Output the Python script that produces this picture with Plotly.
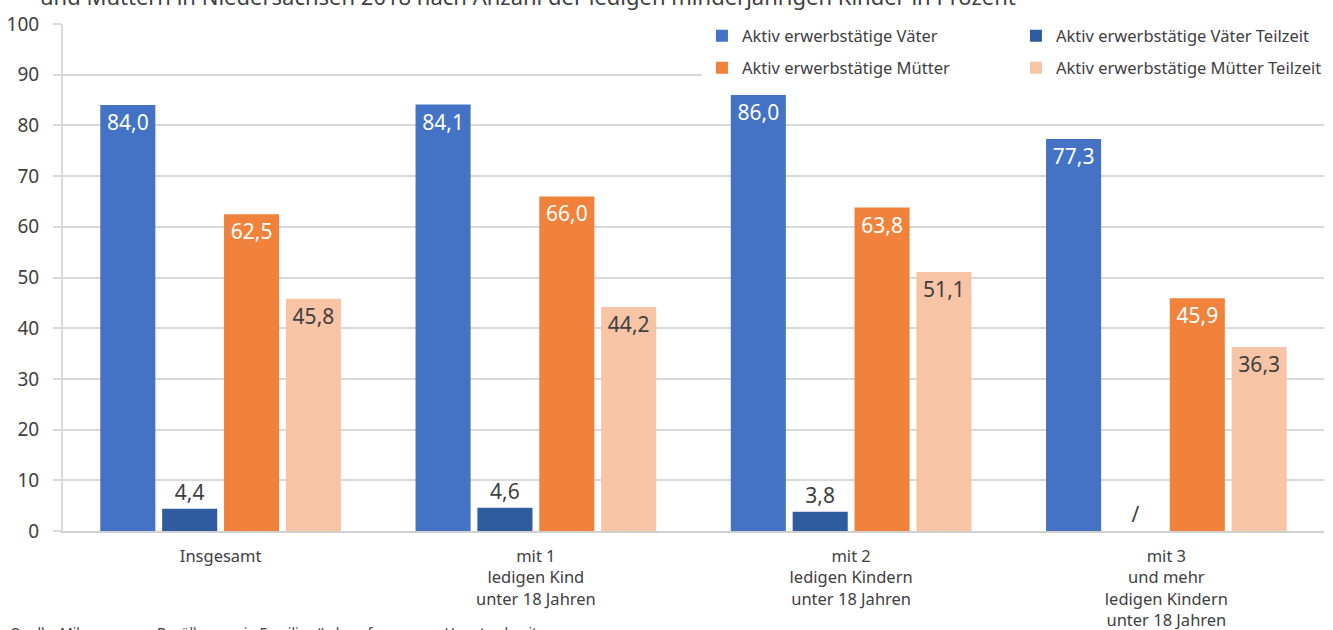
import plotly.graph_objects as go

# Daten
kategorien = ['Insgesamt',
              'mit 1<br>ledigen Kind<br>unter 18 Jahren',
              'mit 2<br>ledigen Kindern<br>unter 18 Jahren',
              'mit 3<br>und mehr<br>ledigen Kindern<br>unter 18 Jahren']
vaeter = [84.0, 84.1, 86.0, 77.3]
vaeter_teilzeit = [4.4, 4.6, 3.8, 0]          # letzter Wert: "/" (keine Angabe)
vaeter_teilzeit_text = ['4,4', '4,6', '3,8', '/']
muetter = [62.5, 66.0, 63.8, 45.9]
muetter_teilzeit = [45.8, 44.2, 51.1, 36.3]

y_ticks = list(range(0, 101, 10))

FONT = 'Noto Sans'
GRAU = '#404040'


def fmt(werte):
    return [f'{v:.1f}'.replace('.', ',') for v in werte]


fig = go.Figure()
fig.add_bar(x=kategorien, y=vaeter, name='Aktiv erwerbstätige Väter',
            marker_color='#4472C4', text=fmt(vaeter), textposition='inside',
            insidetextanchor='end', textfont=dict(color='white', size=21),
            legend='legend')
fig.add_bar(x=kategorien, y=vaeter_teilzeit, name='Aktiv erwerbstätige Väter Teilzeit',
            marker_color='#2F5C9E', text=vaeter_teilzeit_text, textposition='outside',
            textfont=dict(color=GRAU, size=21), legend='legend')
fig.add_bar(x=kategorien, y=muetter, name='Aktiv erwerbstätige Mütter',
            marker_color='#F0823C', text=fmt(muetter), textposition='inside',
            insidetextanchor='end', textfont=dict(color='white', size=21),
            legend='legend2')
fig.add_bar(x=kategorien, y=muetter_teilzeit, name='Aktiv erwerbstätige Mütter Teilzeit',
            marker_color='#F8C4A6', text=fmt(muetter_teilzeit), textposition='inside',
            insidetextanchor='end', textfont=dict(color=GRAU, size=21),
            legend='legend2')
fig.update_traces(constraintext='none', cliponaxis=False, marker_line_width=0)

leg = dict(orientation='h', xref='paper', yref='paper', xanchor='left', yanchor='middle',
           bgcolor='white', font=dict(family=FONT, size=16.5, color=GRAU),
           entrywidth=269, entrywidthmode='pixels', itemwidth=30, borderwidth=0)

fig.update_layout(
    width=1333, height=630,
    margin=dict(l=63, r=9, t=24, b=99, autoexpand=False),
    plot_bgcolor='white', paper_bgcolor='white',
    font=dict(family=FONT, color=GRAU),
    barmode='group', bargap=0.215, bargroupgap=0.11,
    showlegend=True,
    legend=dict(leg, x=0.5067, y=1 - 12 / 507),
    legend2=dict(leg, x=0.5067, y=1 - 44 / 507),
)

fig.update_yaxes(range=[0, 100], tickvals=y_ticks, showgrid=True, gridcolor='#D9D9D9',
                 gridwidth=2, showline=True, linecolor='#D9D9D9', linewidth=2,
                 ticks='outside', ticklen=8, tickcolor='#D9D9D9', tickwidth=2,
                 ticklabelstandoff=10, automargin=False,
                 tickfont=dict(size=19, color=GRAU), zeroline=False)
fig.update_xaxes(showline=True, linecolor='#D0D0D0', linewidth=2, ticks='',
                 ticklabelstandoff=9, automargin=False,
                 tickfont=dict(size=16.5, color=GRAU))

# Titel (oben abgeschnitten) und Quelle (unten abgeschnitten)
fig.add_annotation(text='und Müttern in Niedersachsen 2018 nach Anzahl der ledigen minderjährigen Kinder in Prozent',
                   xref='paper', yref='paper', x=0, y=1, xanchor='left', yanchor='middle',
                   xshift=-25, yshift=28, showarrow=False,
                   font=dict(family=FONT, size=22, color=GRAU))
fig.add_annotation(text='Quelle: Mikrozensus – Bevölkerung in Familien/Lebensformen am Hauptwohnsitz',
                   xref='paper', yref='paper', x=0, y=0, xanchor='left', yanchor='top',
                   xshift=-55, yshift=-90, showarrow=False,
                   font=dict(family=FONT, size=14, color=GRAU))

# Seitenrand des Browsers entfernen, damit die Grafik bei (0, 0) beginnt
fig.write_html('out.html', config=dict(displayModeBar=False),
               post_script="document.body.style.margin = '0';")
